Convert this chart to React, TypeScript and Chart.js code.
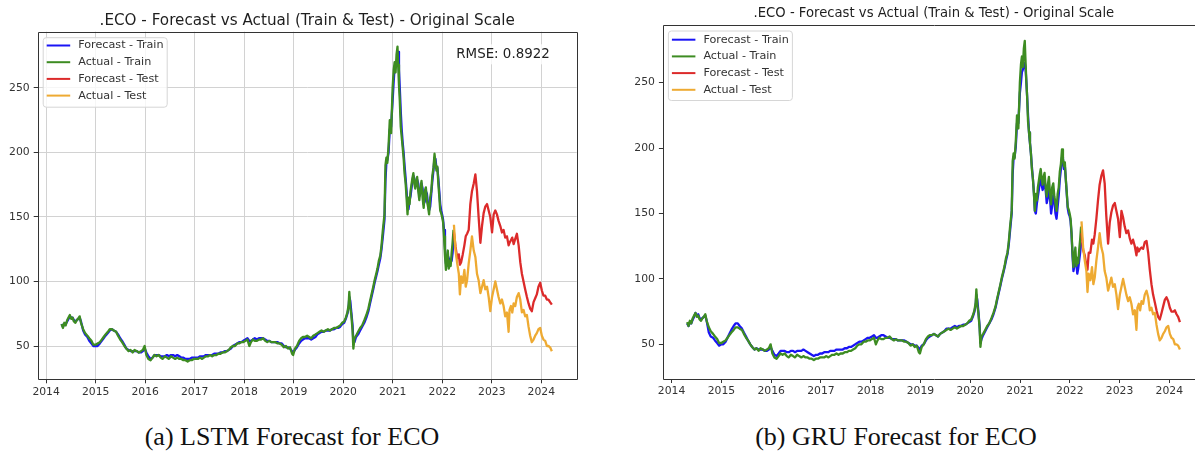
import { useEffect, useRef } from "react";
import { Chart, registerables } from "chart.js";

Chart.register(...registerables);

// ---------------- DATA ----------------
const trainDates: string[] = [
  "2014-04-25","2014-05-05","2014-05-15","2014-05-25","2014-06-05","2014-06-15","2014-06-25","2014-07-05","2014-07-15","2014-07-25","2014-08-05","2014-08-15","2014-08-25","2014-09-05","2014-09-15","2014-10-01","2014-10-15","2014-11-01","2014-11-15","2014-12-01","2014-12-15",
  "2015-01-01","2015-01-15","2015-02-01","2015-02-15","2015-03-01","2015-03-15","2015-04-01","2015-04-15","2015-05-01","2015-05-15","2015-06-01","2015-06-15","2015-07-01","2015-07-15","2015-08-01","2015-08-15","2015-09-01","2015-09-15","2015-10-01","2015-10-15","2015-11-01","2015-11-15","2015-12-01","2015-12-15","2015-12-28",
  "2016-01-10","2016-01-25","2016-02-10","2016-02-25","2016-03-10","2016-03-25","2016-04-10","2016-04-25","2016-05-10","2016-05-25","2016-06-10","2016-06-25","2016-07-10","2016-07-25","2016-08-10","2016-08-25","2016-09-10","2016-09-25","2016-10-10","2016-10-25","2016-11-10","2016-11-25","2016-12-10","2016-12-25",
  "2017-01-10","2017-01-25","2017-02-10","2017-02-25","2017-03-10","2017-03-25","2017-04-10","2017-04-25","2017-05-10","2017-05-25","2017-06-10","2017-06-25","2017-07-10","2017-07-25","2017-08-10","2017-08-25","2017-09-10","2017-09-25","2017-10-10","2017-10-25","2017-11-10","2017-11-25","2017-12-10","2017-12-25",
  "2018-01-10","2018-01-25","2018-02-08","2018-02-20","2018-03-05","2018-03-20","2018-04-05","2018-04-20","2018-05-05","2018-05-20","2018-06-05","2018-06-20","2018-07-05","2018-07-20","2018-08-05","2018-08-20","2018-09-05","2018-09-20","2018-10-05","2018-10-20","2018-11-05","2018-11-20","2018-12-05","2018-12-20","2018-12-28",
  "2019-01-10","2019-01-25","2019-02-10","2019-02-25","2019-03-10","2019-03-25","2019-04-10","2019-04-25","2019-05-10","2019-05-25","2019-06-10","2019-06-25","2019-07-10","2019-07-25","2019-08-10","2019-08-25","2019-09-10","2019-09-25","2019-10-10","2019-10-25","2019-11-10","2019-11-25","2019-12-10","2019-12-25",
  "2020-01-08","2020-01-20","2020-02-01","2020-02-10","2020-02-15","2020-02-22","2020-03-01","2020-03-10","2020-03-16","2020-03-24","2020-04-05","2020-04-20","2020-05-05","2020-05-20","2020-06-05","2020-06-20","2020-07-05","2020-07-15","2020-07-28","2020-08-10","2020-08-20","2020-09-01","2020-09-10","2020-09-20","2020-10-01","2020-10-10","2020-10-20","2020-11-01","2020-11-08","2020-11-15","2020-11-22","2020-12-01","2020-12-10","2020-12-20","2020-12-31",
  "2021-01-08","2021-01-15","2021-01-22","2021-01-29","2021-02-05","2021-02-10","2021-02-16","2021-02-22","2021-03-01","2021-03-08","2021-03-15","2021-03-22","2021-03-29","2021-04-06","2021-04-13","2021-04-20","2021-04-27","2021-05-05","2021-05-12","2021-05-19","2021-05-26","2021-06-02","2021-06-09","2021-06-16","2021-06-23","2021-06-30","2021-07-08","2021-07-16","2021-07-24","2021-08-01","2021-08-09","2021-08-17","2021-08-25","2021-09-02","2021-09-10","2021-09-18","2021-09-26","2021-10-04","2021-10-12","2021-10-20","2021-10-28","2021-11-05","2021-11-12","2021-11-19","2021-11-26","2021-12-03","2021-12-10","2021-12-17","2021-12-24","2021-12-31",
  "2022-01-07","2022-01-14","2022-01-21","2022-01-28","2022-02-04","2022-02-11","2022-02-18","2022-02-25","2022-03-04","2022-03-11","2022-03-18","2022-03-25",
];

const actualTrain: number[] = [
  67,64,68,66,70,72,74,71,72,69,68,70,71,73,68,63,60,58,56,54,51,
  51,52,53,55,57,59,61,63,63,62,61,58,55,53,50,48,46,47,45,47,46,45,46,47,50,
  43,40,39,41,43,42,43,41,40,42,41,40,42,41,40,41,40,40,39,39,38,39,39,40,
  40,40,41,40,41,42,42,43,42,43,43,44,44,45,45,46,47,49,50,50,52,52,53,53,
  54,55,50,53,55,54,54,55,55,56,54,53,54,53,53,53,52,52,51,49,50,48,49,44,43,
  48,50,54,56,57,57,58,57,56,58,59,60,61,62,61,62,63,62,63,64,64,65,66,68,
  69,72,76,82,92,80,74,62,48,56,58,61,64,66,70,74,79,84,90,96,101,106,110,116,120,128,140,152,190,196,192,205,225,215,250,
  264,270,262,276,282,268,252,240,220,212,204,196,184,176,165,152,165,160,170,175,180,184,176,172,178,181,170,163,172,178,165,157,170,173,163,158,152,165,170,182,188,199,192,186,189,176,166,155,153,150,
  146,135,120,109,118,124,110,116,112,122,130,140,
];

const lstmForecastTrain: number[] = [
  67,65,67,67,69,71,73,72,72,70,69,70,71,72,69,62,59,57,54,52,50,
  50,50,52,54,56,58,60,62,63,62,61,59,56,54,51,48,47,46,46,46,46,45,45,46,48,
  45,42,40,41,43,43,43,42,42,42,43,42,43,43,42,43,42,41,41,40,40,40,41,41,
  41,41,42,42,42,43,43,43,43,44,44,44,45,45,46,46,47,48,50,51,52,53,53,54,
  55,56,54,54,55,56,55,56,56,56,55,54,54,53,53,53,53,52,52,50,49,49,48,46,45,
  47,49,52,54,55,56,56,56,55,56,57,59,60,61,61,62,62,62,63,63,64,64,65,67,
  68,71,75,80,88,85,76,66,53,53,57,59,62,65,68,72,77,82,88,94,99,104,108,113,118,125,135,148,178,192,194,200,218,220,240,
  255,266,266,268,276,278,264,250,232,218,208,200,190,180,170,158,156,163,166,172,178,182,180,174,174,179,176,166,168,176,172,160,162,170,168,160,155,158,168,178,186,196,195,188,188,180,170,160,155,152,
  148,140,126,114,112,120,118,113,115,116,122,132,
];

const gruForecastTrain: number[] = [
  66,64,67,66,69,71,74,72,73,70,69,70,71,72,68,59,56,55,53,51,49,
  50,50,52,55,58,61,64,66,66,64,62,59,56,53,50,48,46,47,46,46,46,45,45,46,48,
  45,42,41,43,45,45,45,44,44,45,45,44,45,45,45,46,45,44,43,42,41,42,42,43,
  43,44,44,44,45,45,45,46,46,46,46,47,47,48,48,49,50,51,52,52,53,54,55,55,
  56,57,55,55,56,57,57,56,55,55,54,54,54,53,53,53,53,52,51,50,50,49,49,47,46,
  49,50,53,55,56,57,58,57,56,58,59,60,62,62,62,63,64,63,64,64,65,65,66,67,
  68,71,75,80,88,84,75,64,51,54,57,60,63,66,69,73,78,83,89,95,100,105,109,114,119,126,137,150,180,193,193,201,219,219,242,
  250,258,260,262,265,262,252,240,225,212,204,196,186,176,166,152,150,158,163,168,173,177,172,168,170,174,168,158,162,170,162,150,156,164,160,150,146,155,164,176,184,193,192,184,186,176,165,154,150,148,
  144,134,118,106,110,116,112,104,108,114,120,128,
];

const testDates: string[] = [
  "2022-03-28","2022-04-09","2022-04-21","2022-05-03","2022-05-11","2022-05-20","2022-06-01","2022-06-13","2022-06-23","2022-07-03","2022-07-15","2022-07-27","2022-08-08","2022-08-21","2022-09-02","2022-09-14","2022-09-26","2022-10-09","2022-10-21","2022-11-02","2022-11-14","2022-11-27","2022-12-09","2022-12-21",
  "2023-01-03","2023-01-15","2023-01-27","2023-02-08","2023-02-20","2023-03-05","2023-03-17","2023-03-29","2023-04-10","2023-04-23","2023-05-05","2023-05-12","2023-05-22","2023-06-01","2023-06-11","2023-06-23","2023-07-05","2023-07-18","2023-07-30","2023-08-11","2023-08-23","2023-09-04","2023-09-17","2023-09-29","2023-10-11","2023-10-23","2023-11-05","2023-11-17","2023-11-29","2023-12-11","2023-12-24",
  "2024-01-05","2024-01-17","2024-01-30","2024-02-11","2024-02-23","2024-03-06","2024-03-19",
];

const actualTest: number[] = [
  144,124,114,106,90,104,99,109,96,101,114,124,135,124,119,106,101,91,96,101,94,96,88,77,
  88,94,100,94,88,83,86,81,73,76,61,78,81,76,83,81,88,91,86,76,78,73,74,65,58,53,55,58,60,63,64,
  58,55,54,50,50,49,46,
];

const lstmForecastTest: number[] = [
  138,127,118,121,113,115,121,128,135,137,140,160,170,176,183,170,150,130,143,153,158,160,155,150,
  138,152,155,152,147,143,138,140,134,135,128,130,132,134,129,133,137,128,115,106,100,94,88,83,79,77,84,87,90,96,99,
  93,89,89,86,86,84,82,
];

const gruForecastTest: number[] = [
  135,122,118,110,107,120,120,130,127,134,146,160,172,179,183,173,148,127,143,151,156,158,152,146,
  132,152,147,140,135,137,131,127,130,125,118,124,121,123,124,123,128,129,120,107,96,88,82,76,71,69,74,79,84,86,83,
  78,75,75,76,73,71,67,
];

const yearTicks: number[] = [2014, 2015, 2016, 2017, 2018, 2019, 2020, 2021, 2022, 2023, 2024];
const valueTicks: number[] = [50, 100, 150, 200, 250];
const seriesLabels: string[] = ["Forecast - Train", "Actual - Train", "Forecast - Test", "Actual - Test"];
const seriesColors: string[] = ["#1a14f5", "#3d8c22", "#dc2a2a", "#eeaa32"];
const chartTitle = ".ECO - Forecast vs Actual (Train & Test) - Original Scale";
const lstmNote = "RMSE: 0.8922";
const captions: string[] = ["(a) LSTM Forecast for ECO", "(b) GRU Forecast for ECO"];

// ---------------- RENDERING ----------------
const FONT = "'DejaVu Sans', sans-serif";
Chart.defaults.font.family = FONT;

function toYear(d: string): number {
  const [y, m, day] = d.split("-").map(Number);
  const start = Date.UTC(y, 0, 1);
  const end = Date.UTC(y + 1, 0, 1);
  return y + (Date.UTC(y, m - 1, day) - start) / (end - start);
}

function points(dates: string[], vals: number[]) {
  const n = Math.min(dates.length, vals.length);
  const out: { x: number; y: number }[] = [];
  for (let i = 0; i < n; i++) out.push({ x: toYear(dates[i]), y: vals[i] });
  return out;
}

type Area = { left: number; top: number; right: number; bottom: number };
type PanelSpec = {
  left: number;
  width: number;
  height: number;
  area: Area;
  titleSize: number;
  titleY: number;
  grid: boolean;
  legendRow0: number;
  forecastTrain: number[];
  forecastTest: number[];
  note?: string;
  xMin: number;
  xMax: number;
  yMin: number;
  yMax: number;
};

const panels: PanelSpec[] = [
  {
    left: 0, width: 600, height: 410,
    area: { left: 37.7, top: 31.7, right: 576.7, bottom: 379.3 },
    titleSize: 15.2, titleY: 21, grid: true, legendRow0: 8.3,
    forecastTrain: lstmForecastTrain, forecastTest: lstmForecastTest, note: lstmNote,
    xMin: 2013.83, xMax: 2024.715, yMin: 24.2, yMax: 293.6,
  },
  {
    left: 600, width: 620, height: 410,
    area: { left: 62.9, top: 25, right: 604.9, bottom: 379 },
    titleSize: 13.2, titleY: 14, grid: false, legendRow0: 9.2,
    forecastTrain: gruForecastTrain, forecastTest: gruForecastTest,
    xMin: 2013.825, xMax: 2024.715, yMin: 23.5, yMax: 294.1,
  },
];

const captionLayout = [
  { cx: 292, cy: 437 },
  { cx: 896, cy: 437 },
];

function makeDecor(spec: PanelSpec) {
  return {
    id: "decor",
    afterDraw(chart: any) {
      const { ctx, chartArea: a } = chart;
      ctx.save();
      // axes frame
      ctx.strokeStyle = "#333";
      ctx.lineWidth = 1;
      const l = Math.round(a.left) + 0.5, t = Math.round(a.top) + 0.5;
      const r = Math.round(a.right) + 0.5, b = Math.round(a.bottom) + 0.5;
      ctx.beginPath();
      ctx.moveTo(l, b); ctx.lineTo(l, t); ctx.lineTo(r, t); ctx.lineTo(r, b); ctx.lineTo(l, b);
      ctx.stroke();

      // note (RMSE)
      if (spec.note) {
        ctx.font = `13.4px ${FONT}`;
        const w = ctx.measureText(spec.note).width;
        const cx = a.right - 73.7, cy = a.top + 22.6;
        ctx.fillStyle = "rgba(255,255,255,0.8)";
        ctx.fillRect(cx - w / 2 - 4, cy - 10, w + 8, 20);
        ctx.fillStyle = "#222";
        ctx.textAlign = "center";
        ctx.textBaseline = "middle";
        ctx.fillText(spec.note, cx, cy);
      }

      // legend
      const bx = a.left + 5, by = a.top + 5.5, bw = 124, bh = 69.5;
      ctx.beginPath();
      if ((ctx as any).roundRect) (ctx as any).roundRect(bx + 0.5, by + 0.5, bw, bh, 3);
      else ctx.rect(bx + 0.5, by + 0.5, bw, bh);
      ctx.fillStyle = "rgba(255,255,255,0.8)";
      ctx.fill();
      ctx.strokeStyle = "#d6d6d6";
      ctx.lineWidth = 1;
      ctx.stroke();
      ctx.font = `11.2px ${FONT}`;
      ctx.textAlign = "left";
      ctx.textBaseline = "middle";
      chart.data.datasets.forEach((ds: any, i: number) => {
        const y = by + spec.legendRow0 + i * 16.7;
        ctx.strokeStyle = ds.borderColor;
        ctx.lineWidth = 2;
        ctx.beginPath();
        ctx.moveTo(bx + 4, y);
        ctx.lineTo(bx + 27.5, y);
        ctx.stroke();
        ctx.fillStyle = "#333";
        ctx.fillText(ds.label, bx + 35.5, y);
      });
      ctx.restore();
    },
  };
}

function buildConfig(spec: PanelSpec): any {
  const lineH = spec.titleSize * 1.2;
  const tTop = spec.titleY - lineH / 2;
  const tBottom = spec.area.top - tTop - lineH;
  const mk = (label: number, data: { x: number; y: number }[], order: number) => ({
    label: seriesLabels[label],
    data,
    borderColor: seriesColors[label],
    backgroundColor: seriesColors[label],
    borderWidth: 2.3,
    pointRadius: 0,
    tension: 0,
    fill: false,
    borderJoinStyle: "round",
    order,
  });
  const tickFont = { family: FONT, size: 10.8 };
  return {
    type: "line",
    data: {
      datasets: [
        mk(0, points(trainDates, spec.forecastTrain), 4),
        mk(1, points(trainDates, actualTrain), 3),
        mk(2, points(testDates, spec.forecastTest), 2),
        mk(3, points(testDates, actualTest), 1),
      ],
    },
    options: {
      animation: false,
      responsive: false,
      devicePixelRatio: 1,
      parsing: false,
      layout: { padding: { left: 0, top: 0, right: spec.width - spec.area.right, bottom: 0 } },
      plugins: {
        legend: { display: false },
        tooltip: { enabled: false },
        title: {
          display: true,
          text: chartTitle,
          fullSize: false,
          align: "center",
          color: "#1e1e1e",
          font: { family: FONT, size: spec.titleSize, weight: "normal", lineHeight: 1.2 },
          padding: { top: tTop, bottom: tBottom },
        },
      },
      scales: {
        x: {
          type: "linear",
          min: spec.xMin,
          max: spec.xMax,
          afterBuildTicks: (s: any) => { s.ticks = yearTicks.map((v) => ({ value: v })); },
          afterFit: (s: any) => { s.height = spec.height - spec.area.bottom; },
          ticks: { callback: (v: any) => String(v), font: tickFont, color: "#333", padding: 2, maxRotation: 0, autoSkip: false },
          grid: { display: true, drawOnChartArea: spec.grid, color: "#d2d2d2", lineWidth: 1, drawTicks: true, tickLength: 4, tickColor: "#333", tickWidth: 1 },
          border: { display: false },
        },
        y: {
          type: "linear",
          position: "left",
          min: spec.yMin,
          max: spec.yMax,
          afterBuildTicks: (s: any) => { s.ticks = valueTicks.map((v) => ({ value: v })); },
          afterFit: (s: any) => { s.width = spec.area.left; },
          ticks: { callback: (v: any) => String(v), font: tickFont, color: "#333", padding: 4, autoSkip: false },
          grid: { display: true, drawOnChartArea: spec.grid, color: "#d2d2d2", lineWidth: 1, drawTicks: true, tickLength: 4, tickColor: "#333", tickWidth: 1 },
          border: { display: false },
        },
      },
    },
    plugins: [makeDecor(spec)],
  };
}

function Panel({ spec }: { spec: PanelSpec }) {
  const ref = useRef<HTMLCanvasElement>(null);
  useEffect(() => {
    if (!ref.current) return;
    const chart = new Chart(ref.current, buildConfig(spec));
    return () => chart.destroy();
  }, [spec]);
  return (
    <canvas
      ref={ref}
      width={spec.width}
      height={spec.height}
      style={{ position: "absolute", left: spec.left, top: 0, width: spec.width, height: spec.height }}
    />
  );
}

export default function App() {
  return (
    <div
      style={{
        position: "absolute",
        left: 0,
        top: 0,
        width: 1195,
        height: 452,
        overflow: "hidden",
        background: "#ffffff",
      }}
    >
      {panels.map((p, i) => (
        <Panel key={i} spec={p} />
      ))}
      {captions.map((c, i) => (
        <div
          key={c}
          style={{
            position: "absolute",
            left: captionLayout[i].cx - 250,
            width: 500,
            top: captionLayout[i].cy - 15,
            height: 30,
            lineHeight: "30px",
            textAlign: "center",
            fontFamily: "'Liberation Serif', 'Times New Roman', serif",
            fontSize: 26,
            color: "#111",
            whiteSpace: "nowrap",
          }}
        >
          {c}
        </div>
      ))}
    </div>
  );
}
